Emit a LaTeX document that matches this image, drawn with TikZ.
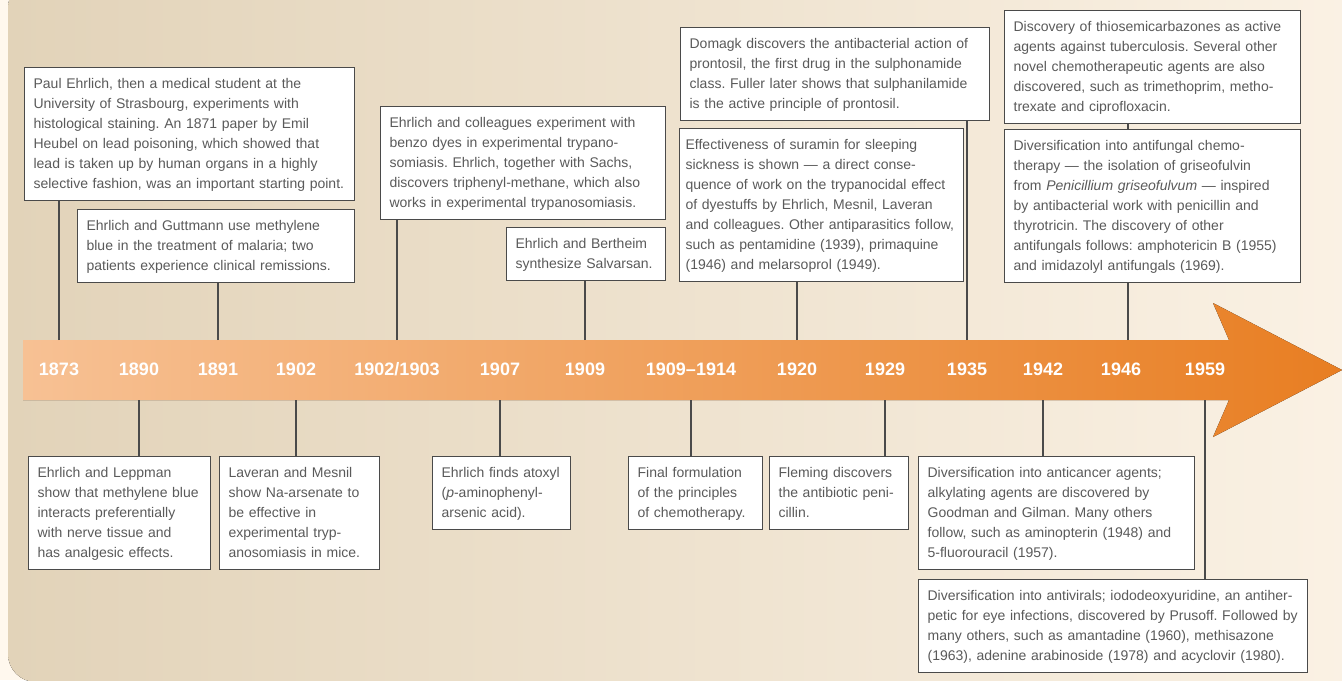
\documentclass[tikz,border=0pt]{standalone}
\usepackage{fontspec}
\setmainfont{Liberation Sans}
\frenchspacing
\definecolor{pagecream}{HTML}{FFF8EE}
\definecolor{panelleft}{HTML}{E2D3B9}
\definecolor{panelright}{HTML}{FBF2E5}
\definecolor{bandleft}{HTML}{F7C194}
\definecolor{bandright}{HTML}{E87E22}
\definecolor{inkgrey}{HTML}{5A5A5A}
\definecolor{rulegrey}{HTML}{4A4A4A}
\newcommand*{\yr}[1]{\textbf{\fontsize{9}{10}\selectfont #1}}

\begin{document}
\begin{tikzpicture}[x=0.5pt,y=-0.5pt,
  ev/.style={draw=rulegrey, fill=white, line width=0.6pt, anchor=north west,
    align=left, text width=#1, inner xsep=4.5pt, inner ysep=3.3pt, text=inkgrey,
    font=\fontsize{7}{10}\selectfont\frenchspacing,
    execute at begin node=\strut, execute at end node=\strut},
  year/.style={text=white, inner sep=1pt},
  link/.style={draw=rulegrey, line width=0.6pt}]
\useasboundingbox (0,0) rectangle (1342,680);
\fill[pagecream] (0,0) rectangle (1342,680);
\fill[left color=panelleft, right color=panelright, rounded corners=14pt]
  (8,-20) -- (8,682) -- (1380,682) -- (1380,-20) -- cycle;

% the time arrow
\fill[left color=bandleft, right color=bandright]
  (23,340) -- (1229,340) -- (1213,303) -- (1342,370)
  -- (1213,437) -- (1229,400) -- (23,400) -- cycle;
\coordinate (bandtop) at (0,340);
\coordinate (bandbot) at (0,400);

\node[year] (y1873) at (59,369) {\yr{1873}};
\node[year] (y1890) at (139,369) {\yr{1890}};
\node[year] (y1891) at (218,369) {\yr{1891}};
\node[year] (y1902) at (296,369) {\yr{1902}};
\node[year] (y1903) at (397,369) {\yr{1902/1903}};
\node[year] (y1907) at (500,369) {\yr{1907}};
\node[year] (y1909) at (585,369) {\yr{1909}};
\node[year] (y1914) at (691,369) {\yr{1909--1914}};
\node[year] (y1920) at (797,369) {\yr{1920}};
\node[year] (y1929) at (885,369) {\yr{1929}};
\node[year] (y1935) at (967,369) {\yr{1935}};
\node[year] (y1942) at (1043,369) {\yr{1942}};
\node[year] (y1946) at (1121,369) {\yr{1946}};
\node[year] (y1959) at (1205,369) {\yr{1959}};
\coordinate (k1946) at (1128,369);

% events above the arrow
\node[ev=156pt] (a1873) at (24,67) {Paul Ehrlich, then a medical student at the\\
University of Strasbourg, experiments with\\
histological staining. An 1871 paper by Emil\\
Heubel on lead poisoning, which showed that\\
lead is taken up by human organs in a highly\\
selective fashion, was an important starting point.};
\node[ev=129.5pt] (a1891) at (77,209) {Ehrlich and Guttmann use methylene\\
blue in the treatment of malaria; two\\
patients experience clinical remissions.};
\node[ev=133.5pt] (a1903) at (380,106) {Ehrlich and colleagues experiment with\\
benzo dyes in experimental trypano-\\
somiasis. Ehrlich, together with Sachs,\\
discovers triphenyl-methane, which also\\
works in experimental trypanosomiasis.};
\node[ev=70.5pt] (a1909) at (506,227) {Ehrlich and Bertheim\\
synthesize Salvarsan.};
\node[ev=145.5pt] (a1935) at (680,27) {Domagk discovers the antibacterial action of\\
prontosil, the first drug in the sulphonamide\\
class. Fuller later shows that sulphanilamide\\
is the active principle of prontosil.};
\node[ev=136pt, inner xsep=3pt] (a1920) at (679,128) {Effectiveness of suramin for sleeping\\
sickness is shown --- a direct conse-\\
quence of work on the trypanocidal effect\\
of dyestuffs by Ehrlich, Mesnil, Laveran\\
and colleagues. Other antiparasitics follow,\\
such as pentamidine (1939), primaquine\\
(1946) and melarsoprol (1949).};
\node[ev=139pt] (a1946t) at (1004,10) {Discovery of thiosemicarbazones as active\\
agents against tuberculosis. Several other\\
novel chemotherapeutic agents are also\\
discovered, such as trimethoprim, metho-\\
trexate and ciprofloxacin.};
\node[ev=139pt] (a1946) at (1004,129) {Diversification into antifungal chemo-\\
therapy --- the isolation of griseofulvin\\
from \emph{Penicillium griseofulvum} --- inspired\\
by antibacterial work with penicillin and\\
thyrotricin. The discovery of other\\
antifungals follows: amphotericin B (1955)\\
and imidazolyl antifungals (1969).};

% events below the arrow
\node[ev=82pt] (b1890) at (28,456) {Ehrlich and Leppman\\
show that methylene blue\\
interacts preferentially\\
with nerve tissue and\\
has analgesic effects.};
\node[ev=71pt] (b1902) at (219,456) {Laveran and Mesnil\\
show Na-arsenate to\\
be effective in\\
experimental tryp-\\
anosomiasis in mice.};
\node[ev=60pt] (b1907) at (432,456) {Ehrlich finds atoxyl\\
(\emph{p}-aminophenyl-\\
arsenic acid).};
\node[ev=58pt] (b1914) at (628,456) {Final formulation\\
of the principles\\
of chemotherapy.};
\node[ev=60.5pt] (b1929) at (769,456) {Fleming discovers\\
the antibiotic peni-\\
cillin.};
\node[ev=129pt] (b1942) at (918,456) {Diversification into anticancer agents;\\
alkylating agents are discovered by\\
Goodman and Gilman. Many others\\
follow, such as aminopterin (1948) and\\
5-fluorouracil (1957).};
\node[ev=185.5pt] (b1959) at (918,579) {Diversification into antivirals; iododeoxyuridine, an antiher-\\
petic for eye infections, discovered by Prusoff. Followed by\\
many others, such as amantadine (1960), methisazone\\
(1963), adenine arabinoside (1978) and acyclovir (1980).};

% connectors
\draw[link] (y1873 |- bandtop) -- (y1873 |- a1873.south);
\draw[link] (y1891 |- bandtop) -- (y1891 |- a1891.south);
\draw[link] (y1903 |- bandtop) -- (y1903 |- a1903.south);
\draw[link] (y1909 |- bandtop) -- (y1909 |- a1909.south);
\draw[link] (y1920 |- bandtop) -- (y1920 |- a1920.south);
\draw[link] (y1935 |- bandtop) -- (y1935 |- a1935.south);
\draw[link] (k1946 |- bandtop) -- (k1946 |- a1946.south);
\draw[link] (k1946 |- a1946.north) -- (k1946 |- a1946t.south);
\draw[link] (y1890 |- bandbot) -- (y1890 |- b1890.north);
\draw[link] (y1902 |- bandbot) -- (y1902 |- b1902.north);
\draw[link] (y1907 |- bandbot) -- (y1907 |- b1907.north);
\draw[link] (y1914 |- bandbot) -- (y1914 |- b1914.north);
\draw[link] (y1929 |- bandbot) -- (y1929 |- b1929.north);
\draw[link] (y1942 |- bandbot) -- (y1942 |- b1942.north);
\draw[link] (y1959 |- bandbot) -- (y1959 |- b1959.north);
\end{tikzpicture}
\end{document}
